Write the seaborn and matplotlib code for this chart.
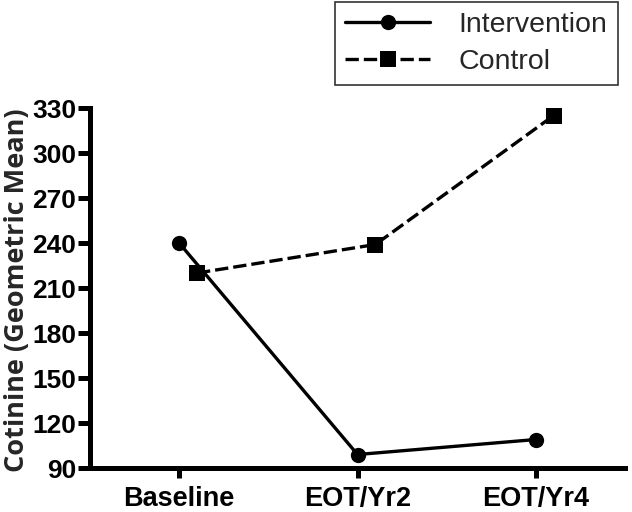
import matplotlib
matplotlib.use("Agg")
import matplotlib.pyplot as plt
import numpy as np
import pandas as pd
import seaborn as sns

# values
timepoints = ["Baseline", "EOT/Yr2", "EOT/Yr4"]
intervention = [240, 99, 109]
control = [220, 239, 325]
y_ticks = [90, 120, 150, 180, 210, 240, 270, 300, 330]

sns.set_theme(style="ticks")
plt.rcParams["font.family"] = ["Liberation Sans", "DejaVu Sans"]

# control points sit slightly right of each tick in the original (GraphPad style)
offsets = {"Intervention": 0.0, "Control": 0.1}
df = pd.DataFrame({
    "time": list(range(len(timepoints))) * 2,
    "value": intervention + control,
    "group": ["Intervention"] * 3 + ["Control"] * 3,
})
df["xpos"] = df["time"] + df["group"].map(offsets)

fig = plt.figure(figsize=(6.32, 5.12), dpi=100)
ax = fig.add_axes([0.1424, 0.0859, 0.8466, 0.7031])

sns.lineplot(data=df, x="xpos", y="value", hue="group", style="group",
             hue_order=["Intervention", "Control"], style_order=["Intervention", "Control"],
             palette={"Intervention": "black", "Control": "black"},
             markers={"Intervention": "o", "Control": "s"},
             dashes={"Intervention": "", "Control": (4, 1.5)},
             linewidth=2.4, markersize=11, markeredgewidth=0, ax=ax)

ax.set_xlim(-0.5, 2.5)
ax.set_ylim(90, 330)
ax.set_xticks(range(len(timepoints)))
ax.set_xticklabels(timepoints, fontsize=19.5, fontweight="bold")
ax.set_yticks(y_ticks)
ax.set_yticklabels([str(v) for v in y_ticks], fontsize=19, fontweight="bold")
ax.set_xlabel("")
ax.set_ylabel("")
fig.text(0.006, 0.434, "Cotinine (Geometric Mean)", rotation=90, ha="left", va="center",
         fontsize=19.5, fontweight="bold", family=["Open Sans", "DejaVu Sans"])

for side in ["top", "right"]:
    ax.spines[side].set_visible(False)
for side in ["left", "bottom"]:
    ax.spines[side].set_linewidth(3.6)
    ax.spines[side].set_color("black")
ax.tick_params(axis="y", length=9, width=3.6, colors="black", pad=1)
ax.tick_params(axis="x", length=7, width=3.6, colors="black", pad=6)

handles, labels = ax.get_legend_handles_labels()
ax.get_legend().remove()
leg = fig.legend(handles, labels, loc="upper left", bbox_to_anchor=(0.530, 0.996),
                 fontsize=20.5, handlelength=3.0, frameon=True, fancybox=False,
                 borderpad=0.35, labelspacing=0.4, handletextpad=1.0,
                 borderaxespad=0)
leg.get_frame().set_edgecolor("black")
leg.get_frame().set_linewidth(1.2)

fig.savefig("out.png", dpi=100)
